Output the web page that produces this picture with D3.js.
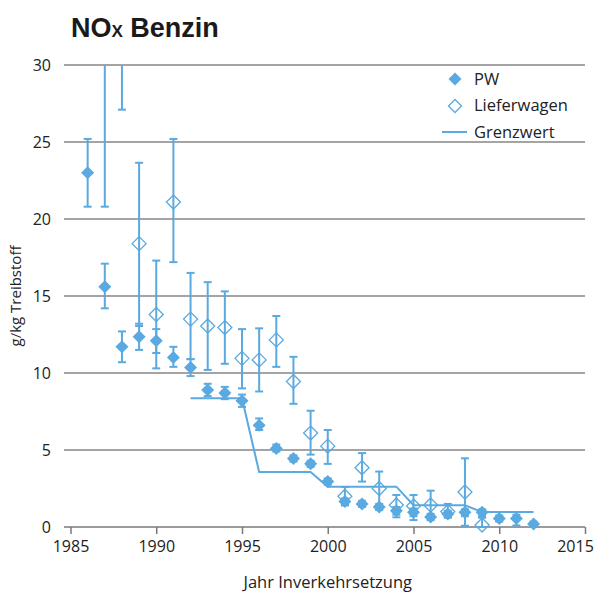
<!DOCTYPE html>
<html>
<head>
<meta charset="utf-8">
<script src="https://cdn.jsdelivr.net/npm/d3@7"></script>
<style>
  body { margin: 0; background: #fff; }
  svg { display: block; font-family: "Open Sans", "Noto Sans", sans-serif; }
</style>
</head>
<body>
<svg id="chart" width="601" height="592"></svg>
<script>
// Data (g/kg Treibstoff)
const pwYears = [1986, 1987, 1988, 1989, 1990, 1991, 1992, 1993, 1994, 1995, 1996, 1997, 1998, 1999,
                 2000, 2001, 2002, 2003, 2004, 2005, 2006, 2007, 2008, 2009, 2010, 2011, 2012];
const pwValues = [23.0, 15.6, 11.7, 12.35, 12.1, 11.0, 10.35, 8.9, 8.7, 8.2, 6.6, 5.1, 4.45, 4.1,
                  2.95, 1.65, 1.5, 1.3, 1.05, 0.95, 0.65, 0.85, 0.95, 0.95, 0.55, 0.55, 0.2];
const pwLow = [20.8, 14.2, 10.7, 11.5, 11.3, 10.4, 9.8, 8.5, 8.3, 7.8, 6.3, 4.9, 4.25, 3.9,
               2.75, 1.45, 1.3, 1.1, 0.8, 0.7, 0.45, 0.65, 0.7, 0.7, 0.35, 0.1, 0.05];
const pwHigh = [25.2, 17.1, 12.7, 13.2, 12.85, 11.7, 10.9, 9.3, 9.1, 8.6, 7.05, 5.35, 4.65, 4.3,
                3.15, 1.85, 1.7, 1.5, 1.3, 1.2, 0.85, 1.05, 1.15, 1.15, 0.75, 0.8, 0.35];

const lwYears = [1987, 1988, 1989, 1990, 1991, 1992, 1993, 1994, 1995, 1996, 1997, 1998, 1999,
                 2000, 2001, 2002, 2003, 2004, 2005, 2006, 2007, 2008, 2009];
const lwValues = [33, 36, 18.4, 13.8, 21.1, 13.5, 13.05, 12.95, 10.95, 10.85, 12.15, 9.45, 6.1,
                  5.25, 2.0, 3.85, 2.5, 1.43, 1.36, 1.43, 1.0, 2.27, 0.13];
const lwLow = [20.8, 27.1, 13.05, 10.3, 17.2, 10.9, 10.2, 10.6, 9.0, 8.8, 10.4, 8.0, 4.7,
               4.1, 1.4, 2.95, 1.3, 0.63, 0.45, 0.6, 0.6, 0.08, 0.0];
const lwHigh = [45, 48, 23.65, 17.3, 25.2, 16.5, 15.9, 15.3, 12.85, 12.9, 13.7, 11.05, 7.55,
                6.3, 2.6, 4.8, 3.6, 2.08, 2.08, 2.36, 1.5, 4.46, 0.6];

const limitYears = [1992, 1995, 1996, 1999, 2000, 2004, 2005, 2008, 2009, 2012];
const limitValues = [8.36, 8.36, 3.57, 3.57, 2.62, 2.62, 1.41, 1.41, 0.97, 0.97];

const xTicks = [1985, 1990, 1995, 2000, 2005, 2010, 2015];
const yTicks = [0, 5, 10, 15, 20, 25, 30];

const blue = "#5aa9e0";

const svg = d3.select("#chart");

const x = d3.scaleLinear().domain([1985, 2015]).range([70.5, 585]);
const y = d3.scaleLinear().domain([0, 30]).range([527, 65]);

// Title
const title = svg.append("text")
    .attr("x", 71)
    .attr("y", 37)
    .attr("font-family", "Liberation Sans, Arial, sans-serif")
    .attr("font-weight", "bold")
    .attr("font-size", 27)
    .attr("fill", "#1a1a1a");
title.append("tspan").text("NO");
title.append("tspan").attr("font-size", 17).text("X");
title.append("tspan").text(" Benzin");

// Gridlines (no line at 0: that one is the x axis)
svg.append("g")
    .selectAll("line")
    .data(yTicks.filter(d => d > 0))
    .join("line")
    .attr("x1", 64)
    .attr("x2", x(2015))
    .attr("y1", d => y(d))
    .attr("y2", d => y(d))
    .attr("stroke", "#4a4a4a")
    .attr("stroke-width", 1.2);

// Y labels
const yAxis = svg.append("g")
    .attr("transform", "translate(56,0)")
    .call(d3.axisLeft(y).tickValues(yTicks).tickSize(0).tickPadding(5));
yAxis.select(".domain").remove();
yAxis.selectAll("text")
    .attr("font-family", "Open Sans, sans-serif")
    .attr("font-size", 16)
    .attr("fill", "#222");

// X axis
const xAxis = svg.append("g")
    .attr("transform", `translate(0,${y(0)})`)
    .call(d3.axisBottom(x).tickValues(xTicks).tickFormat(d3.format("d")).tickSize(7).tickSizeOuter(0).tickPadding(7));
xAxis.select(".domain")
    .attr("d", `M64,0H${x(2015)}`)
    .attr("stroke", "#7a7a7a")
    .attr("stroke-width", 1.5);
xAxis.selectAll(".tick line").attr("stroke", "#7a7a7a").attr("stroke-width", 1.5);
xAxis.selectAll("text")
    .attr("font-family", "Open Sans, sans-serif")
    .attr("font-size", 16)
    .attr("fill", "#222")
    .attr("dx", d => d === 2015 ? -10 : 0);

// Axis titles
svg.append("text")
    .attr("transform", `translate(21,${(y(0) + y(30)) / 2}) rotate(-90)`)
    .attr("text-anchor", "middle")
    .attr("font-size", 15)
    .attr("fill", "#222")
    .text("g/kg Treibstoff");

svg.append("text")
    .attr("x", (x(1985) + x(2015)) / 2)
    .attr("y", 588)
    .attr("text-anchor", "middle")
    .attr("font-size", 16.5)
    .attr("fill", "#222")
    .text("Jahr Inverkehrsetzung");

// Plot clip (bars stop at the 30 line)
svg.append("clipPath").attr("id", "plot-clip")
    .append("rect")
    .attr("x", 50).attr("y", y(30))
    .attr("width", 560).attr("height", y(0) - y(30) + 20);

const plot = svg.append("g").attr("clip-path", "url(#plot-clip)");

// Limit line
const limitData = limitYears.map((yr, i) => [yr, limitValues[i]]);
plot.append("path")
    .datum(limitData)
    .attr("d", d3.line().x(d => x(d[0])).y(d => y(d[1])))
    .attr("fill", "none")
    .attr("stroke", blue)
    .attr("stroke-width", 2);

const pw = pwYears.map((yr, i) => ({ year: yr, v: pwValues[i], lo: pwLow[i], hi: pwHigh[i] }));
const lw = lwYears.map((yr, i) => ({ year: yr, v: lwValues[i], lo: lwLow[i], hi: lwHigh[i] }));

const capW = 4;
function errorBars(g, data) {
    const e = g.append("g").selectAll("g").data(data).join("g")
        .attr("stroke", blue)
        .attr("stroke-width", 2);
    e.append("line")
        .attr("x1", d => x(d.year)).attr("x2", d => x(d.year))
        .attr("y1", d => y(d.lo)).attr("y2", d => y(d.hi));
    e.append("line")
        .attr("x1", d => x(d.year) - capW).attr("x2", d => x(d.year) + capW)
        .attr("y1", d => y(d.lo)).attr("y2", d => y(d.lo));
    e.append("line")
        .attr("x1", d => x(d.year) - capW).attr("x2", d => x(d.year) + capW)
        .attr("y1", d => y(d.hi)).attr("y2", d => y(d.hi));
}

errorBars(plot, lw);
errorBars(plot, pw);

function diamond(cx, cy, r) {
    return `M${cx},${cy - r}L${cx + r},${cy}L${cx},${cy + r}L${cx - r},${cy}Z`;
}

plot.append("g").selectAll("path")
    .data(lw)
    .join("path")
    .attr("d", d => diamond(x(d.year), y(d.v), 7))
    .attr("fill", "none")
    .attr("stroke", blue)
    .attr("stroke-width", 1.3);

plot.append("g").selectAll("path")
    .data(pw)
    .join("path")
    .attr("d", d => diamond(x(d.year), y(d.v), 6.5))
    .attr("fill", blue);

// Legend
const legend = svg.append("g").attr("font-size", 16.5).attr("fill", "#222");
legend.append("path").attr("d", diamond(455, 79, 6.5)).attr("fill", blue);
legend.append("path").attr("d", diamond(455, 106, 6.5))
    .attr("fill", "none").attr("stroke", blue).attr("stroke-width", 1.3);
legend.append("line")
    .attr("x1", 442).attr("x2", 467).attr("y1", 132).attr("y2", 132)
    .attr("stroke", blue).attr("stroke-width", 2);
const legendLabels = ["PW", "Lieferwagen", "Grenzwert"];
legend.selectAll("text")
    .data(legendLabels)
    .join("text")
    .attr("x", 474)
    .attr("y", (d, i) => 79 + i * 26.5)
    .attr("dy", "0.35em")
    .text(d => d);
</script>
</body>
</html>
